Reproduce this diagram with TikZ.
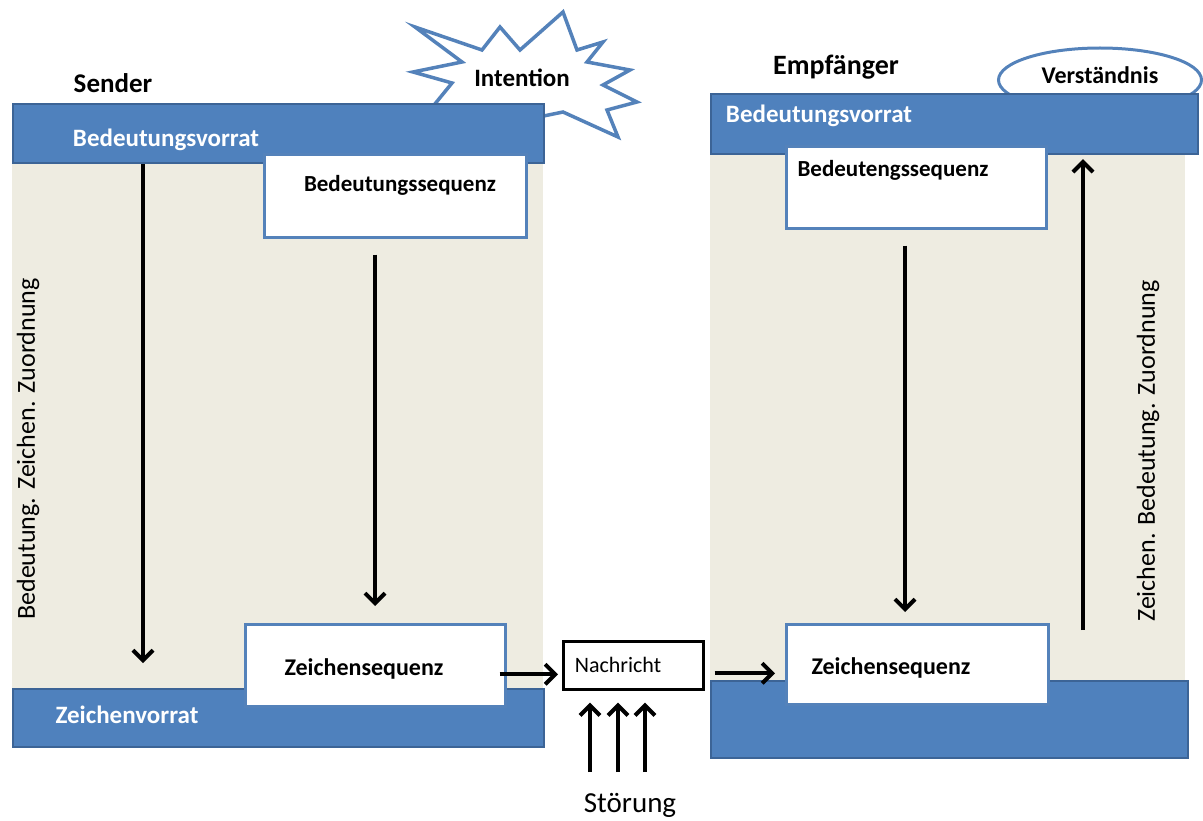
\documentclass[tikz,border=0pt]{standalone}
\usepackage{fontspec}
\setmainfont{Carlito}
\usepackage{tikz}
\definecolor{vorrat}{RGB}{79,129,189}
\definecolor{vorratline}{RGB}{60,100,150}
\definecolor{beige}{RGB}{238,236,225}
\definecolor{seqline}{RGB}{84,130,186}
\usetikzlibrary{positioning,arrows.meta,shapes.geometric}
\tikzset{%
  field/.style={fill=beige, anchor=north west, inner sep=0},% background of one side
  vorrat/.style={draw=vorratline, line width=2.2pt, fill=vorrat, anchor=north west, inner sep=0},% blue store bar
  sequenz/.style={draw=seqline, line width=2.6pt, fill=white, anchor=north west, inner sep=0},% white sequence box
  title/.style={font=\fontsize{27}{31}\selectfont\bfseries},% Sender / Empfaenger
  stock/.style={text=white, font=\fontsize{25}{29}\selectfont\bfseries},% text on blue bar
  seqtext/.style={font=\fontsize{23}{27}\selectfont\bfseries},% text in sequence box
  cloud/.style={draw=seqline, line width=3.5pt, fill=white},% intention / verstaendnis
  side/.style={rotate=90, font=\fontsize{26}{30}\selectfont},% vertical text
  arr/.style={line width=4pt, -{Straight Barb[length=10pt, width=20pt]}}
}
\begin{document}
\begin{tikzpicture}[x=1pt, y=-1pt]
\useasboundingbox (0,0) rectangle (1203,821);

% Sender
\node[field, minimum width=531pt, minimum height=590pt] (sfield) at (12,130) {};
\filldraw[cloud, line join=miter] (415,27) -- (482,50) -- (500,27) -- (520,50) -- (563,12)
  -- (577,50) -- (603,42) -- (587,62) -- (630,70) -- (603,85) -- (637,102) -- (607,110)
  -- (618,137) -- (563,112) -- (500,125) -- (430,110) -- (452,83) -- (413,72) -- (462,62) -- cycle;
\node[font=\fontsize{25}{29}\selectfont\bfseries] (intention) at (522,78) {Intention};
\node[vorrat, minimum width=531pt, minimum height=59pt] (sbvorrat) at (12,103) {};
\node[sequenz, minimum width=262pt, minimum height=83pt] (sbseq) at (263,153) {};
\node[vorrat, minimum width=531pt, minimum height=58pt] (szvorrat) at (12,688) {};
\node[sequenz, minimum width=260pt, minimum height=82pt] (szseq) at (244,623) {};
\node[title] (sender) at (113,83) {Sender};
\node[stock] (sbtext) at (166,140) {Bedeutungsvorrat};
\node[stock] (sztext) at (127,715) {Zeichenvorrat};
\node[seqtext] (sbseqtext) at (400,185) {Bedeutungssequenz};
\node[seqtext, font=\fontsize{24}{28}\selectfont\bfseries] (szseqtext) at (364,669) {Zeichensequenz};
\node[side] (sside) at (28,449) {Bedeutung. Zeichen. Zuordnung};
\coordinate (sa) at (143,663);
\coordinate (sb) at (375,0);
\draw[arr] (sbvorrat.south -| sa) -- (sa);
\draw[arr, shorten <=16pt, shorten >=17pt] (sbseq.south -| sb) -- (szseq.north -| sb);

% Empfaenger
\node[field, minimum width=475pt, minimum height=590pt] (rfield) at (710,130) {};
\node[cloud, line width=3pt, ellipse, minimum width=203pt, minimum height=64pt] (verst) at (1100,80) {};
\node[font=\fontsize{24}{28}\selectfont\bfseries] (versttext) at (1100,75) {Verständnis};
\node[vorrat, minimum width=487pt, minimum height=60pt] (rbvorrat) at (710,93) {};
\node[sequenz, minimum width=260pt, minimum height=82pt] (rbseq) at (785,145) {};
\node[vorrat, minimum width=477pt, minimum height=77pt] (rzvorrat) at (710,680) {};
\node[sequenz, minimum width=262pt, minimum height=80pt] (rzseq) at (785,623) {};
\node[title, font=\fontsize{28}{32}\selectfont\bfseries] (empf) at (836,67) {Empfänger};
\node[stock] (rbtext) at (819,116) {Bedeutungsvorrat};
\node[seqtext] (rbseqtext) at (893,170) {Bedeutengssequenz};
\node[seqtext, font=\fontsize{24}{28}\selectfont\bfseries] (rzseqtext) at (891,668) {Zeichensequenz};
\node[side] (rside) at (1148,451) {Zeichen. Bedeutung. Zuordnung};
\coordinate (ra) at (905,0);
\coordinate (ru) at (1083,630);
\draw[arr, shorten <=16pt, shorten >=11pt] (rbseq.south -| ra) -- (rzseq.north -| ra);
\draw[arr, shorten >=4pt] (ru) -- (rbvorrat.south -| ru);

% Nachricht
\node[draw, line width=2.6pt, fill=white, anchor=north west, minimum width=140pt,
  minimum height=48pt, inner sep=0] (msg) at (562,640) {};
\node[font=\fontsize{22}{26}\selectfont] (msgtext) at (618,665) {Nachricht};
\draw[arr, shorten <=-7pt, shorten >=4pt] ([yshift=-9pt]szseq.east) -- ([yshift=-9pt]msg.west);
\draw[arr, shorten <=10pt, shorten >=10pt] ([yshift=-8pt]msg.east) -- ([yshift=-8pt]msg.east -| rzseq.west);
\node[font=\fontsize{29}{34}\selectfont] (stoerung) at (630,805) {Störung};
\foreach \x [count=\i] in {590,618,645} {
  \coordinate (n\i) at (\x,772);
  \draw[arr, shorten >=12pt] (n\i) -- (n\i |- msg.south);
}
\end{tikzpicture}
\end{document}
